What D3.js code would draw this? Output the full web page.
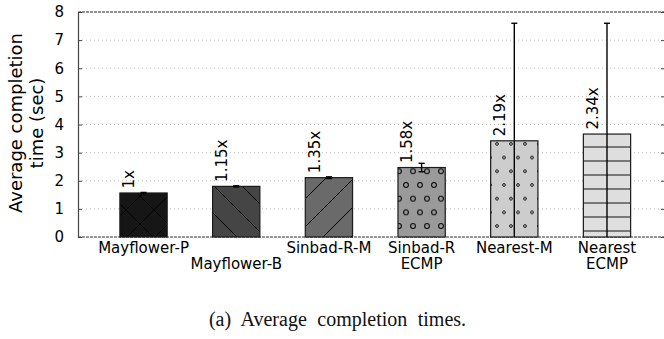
<!DOCTYPE html>
<html>
<head>
<meta charset="utf-8">
<script src="https://cdn.jsdelivr.net/npm/d3@7"></script>
<style>
  body { margin: 0; background: #fff; }
  svg text { font-family: "DejaVu Sans", sans-serif; }
</style>
</head>
<body>
<div id="chart"></div>
<script>
(function(){
// data
const categoryLines = [["Mayflower-P"], ["", "Mayflower-B"], ["Sinbad-R-M"], ["Sinbad-R", "ECMP"], ["Nearest-M"], ["Nearest", "ECMP"]];
const means = [1.565, 1.80, 2.11, 2.47, 3.42, 3.66];
const errors = [0.02, 0.02, 0.03, 0.15, 4.18, 3.94];
const ratioLabels = ["1x", "1.15x", "1.35x", "1.58x", "2.19x", "2.34x"];
const yTicks = [0, 1, 2, 3, 4, 5, 6, 7, 8];
const barColors = ["#161616", "#454545", "#6a6a6a", "#9a9a9a", "#cdcdcd", "#dedede"];
const hatches = ["cross", "back", "fwd", "bigdots", "smalldots", "hlines"];

const width = 664;
const height = 339;
const left = 78, right = 664, top = 12, bottom = 237;

const svg = d3.select("#chart")
  .append("svg")
  .attr("width", width)
  .attr("height", height);

const x = d3.scaleLinear().domain([-0.707, 5.615]).range([left, right]);
const y = d3.scaleLinear().domain([0, 8]).range([bottom, top]);
const barW = 0.51;

// hatch patterns
const defs = svg.append("defs");
function makePattern(i) {
  const kind = hatches[i];
  let w = 28, h = 28;
  if (kind == "bigdots" || kind == "smalldots") { w = 14; h = 27.4; }
  if (kind == "hlines") { w = 14; h = 14; }
  const p = defs.append("pattern")
    .attr("id", "hatch" + i)
    .attr("patternUnits", "userSpaceOnUse")
    .attr("width", w).attr("height", h);
  p.append("rect").attr("width", w).attr("height", h).attr("fill", barColors[i]);
  const line = (x1, y1, x2, y2, c, sw) => p.append("line")
    .attr("x1", x1).attr("y1", y1).attr("x2", x2).attr("y2", y2)
    .attr("stroke", c).attr("stroke-width", sw);
  if (kind == "cross") {
    line(0, 0, 28, 28, "#000", 1);
    line(0, 28, 28, 0, "#000", 1);
  } else if (kind == "back") {
    line(0, 0, 28, 28, "#000", 1);
  } else if (kind == "fwd") {
    line(0, 28, 28, 0, "#000", 1);
  } else if (kind == "hlines") {
    line(0, 7, 14, 7, "#333", 1.2);
  } else {
    const r = kind == "bigdots" ? 2.4 : 1.4;
    [[7, 6.85], [0, 20.55], [14, 20.55]].forEach(c => {
      p.append("circle").attr("cx", c[0]).attr("cy", c[1]).attr("r", r)
        .attr("fill", "none").attr("stroke", "#000").attr("stroke-width", kind == "bigdots" ? 1 : 0.9);
    });
  }
}
hatches.forEach((h, i) => makePattern(i));

// grid lines
svg.append("g").selectAll("line")
  .data(yTicks.filter(t => t > 0 && t < 8))
  .join("line")
  .attr("x1", left).attr("x2", right)
  .attr("y1", d => y(d)).attr("y2", d => y(d))
  .attr("stroke", "#bbb").attr("stroke-width", 1)
  .attr("stroke-dasharray", "1,3");

// frame: dashed top & bottom, solid left
svg.append("line").attr("x1", left).attr("x2", right).attr("y1", y(8)).attr("y2", y(8))
  .attr("stroke", "#222").attr("stroke-dasharray", "3,1");
svg.append("line").attr("x1", left).attr("x2", right).attr("y1", y(0)).attr("y2", y(0))
  .attr("stroke", "#777").attr("stroke-width", 1.6).attr("stroke-dasharray", "3,1");
svg.append("line").attr("x1", left + 0.5).attr("x2", left + 0.5).attr("y1", y(8)).attr("y2", y(0))
  .attr("stroke", "#444").attr("stroke-width", 1.2);

// y axis with inward ticks
const yAxis = svg.append("g")
  .attr("transform", `translate(${left},0)`)
  .call(d3.axisLeft(y).tickValues(yTicks).tickSize(-4).tickPadding(14).tickFormat(d3.format("d")));
yAxis.select(".domain").remove();
yAxis.selectAll(".tick line").attr("stroke", "#444");
yAxis.selectAll("text").attr("font-size", 15).attr("fill", "#000")
  .attr("font-family", "DejaVu Sans, sans-serif");

// right ticks
svg.append("g").selectAll("line")
  .data(yTicks)
  .join("line")
  .attr("x1", right - 3).attr("x2", right)
  .attr("y1", d => y(d) + 0.5).attr("y2", d => y(d) + 0.5)
  .attr("stroke", "#444");

// y label
const yl = svg.append("text")
  .attr("transform", "rotate(-90)")
  .attr("text-anchor", "middle")
  .attr("font-size", 18)
  .attr("fill", "#000");
yl.append("tspan").attr("x", -123).attr("y", 22).text("Average completion");
yl.append("tspan").attr("x", -123).attr("y", 43).text("time (sec)");

// bars
const idx = d3.range(means.length);
svg.append("g").selectAll("rect")
  .data(idx)
  .join("rect")
  .attr("x", i => x(i - barW / 2))
  .attr("y", i => y(means[i]))
  .attr("width", i => x(barW) - x(0))
  .attr("height", i => y(0) - y(means[i]))
  .attr("fill", i => `url(#hatch${i})`)
  .attr("stroke", "#1a1a1a")
  .attr("stroke-width", 1.2);

// error bars
const eb = svg.append("g").attr("stroke", "#000").attr("stroke-width", 1.4);
idx.forEach(i => {
  const cx = x(i);
  const hi = y(means[i] + errors[i]);
  const lo = y(Math.max(0, means[i] - errors[i]));
  eb.append("line").attr("x1", cx).attr("x2", cx).attr("y1", hi).attr("y2", lo);
  eb.append("line").attr("x1", cx - 3).attr("x2", cx + 3).attr("y1", hi).attr("y2", hi);
  if (means[i] - errors[i] > 0)
    eb.append("line").attr("x1", cx - 3).attr("x2", cx + 3).attr("y1", lo).attr("y2", lo);
});

// ratio labels
svg.append("g").selectAll("text")
  .data(idx)
  .join("text")
  .attr("transform", i => `translate(${x(i - barW / 2) + 14.5},${y(means[i]) - 4.5}) rotate(-90)`)
  .attr("font-size", 15)
  .attr("fill", "#000")
  .text(i => ratioLabels[i]);

// x labels
const xl = svg.append("g").selectAll("text")
  .data(idx)
  .join("text")
  .attr("text-anchor", "middle")
  .attr("font-size", 15)
  .attr("fill", "#000");
xl.each(function(i) {
  const t = d3.select(this);
  categoryLines[i].forEach((s, k) => {
    t.append("tspan").attr("x", x(i)).attr("y", 252.5 + k * 16.5).text(s);
  });
});

// caption
svg.append("text")
  .attr("x", 337.5)
  .attr("y", 326)
  .attr("text-anchor", "middle")
  .style("font-family", "'Liberation Serif', serif")
  .attr("font-size", 20)
  .attr("word-spacing", 5.5)
  .attr("fill", "#111")
  .text("(a) Average completion times.");
})();
</script>
</body>
</html>
